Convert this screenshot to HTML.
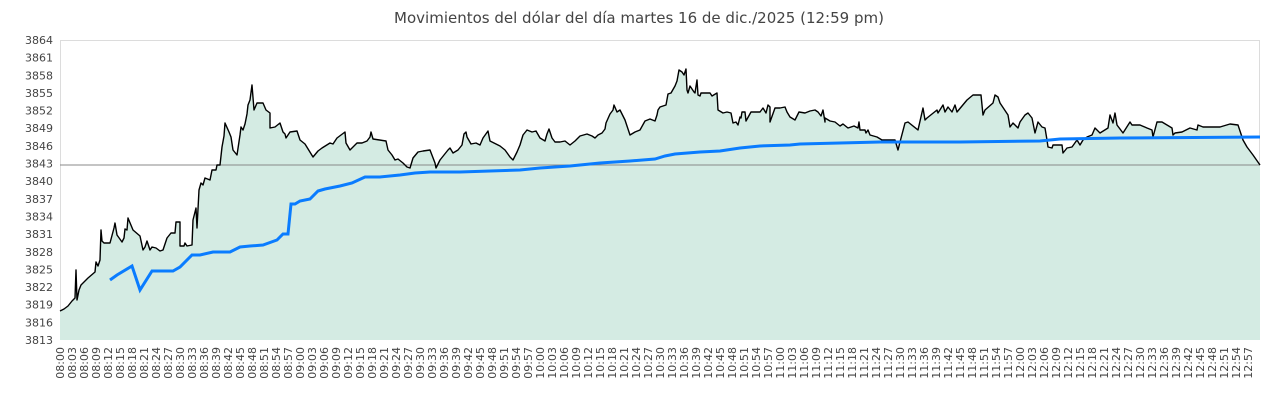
<!DOCTYPE html>
<html><head><meta charset="utf-8"><style>
body{margin:0;background:#fff;}
svg{display:block;font-family:"DejaVu Sans","Liberation Sans",sans-serif;}
</style></head><body>
<svg id="s" width="1280" height="400" xmlns="http://www.w3.org/2000/svg">
<text x="639" y="23" text-anchor="middle" font-size="15" fill="#444">Movimientos del dólar del día martes 16 de dic./2025 (12:59 pm)</text>
<rect x="60.5" y="40.5" width="1199" height="299" fill="#fff" stroke="#dcdcdc"/>
<polygon id="area" fill="#d4ebe3" points=""/>
<line x1="60" y1="165" x2="1260" y2="165" stroke="#888" stroke-width="1"/>
<polyline id="blk" fill="none" stroke="#000" stroke-width="1.4" stroke-linejoin="round" points=""/>
<polyline id="blu" fill="none" stroke="#0a7cff" stroke-width="3" points="110,280 117,275 132,266 140,290 152,271 173,271 180,267 192,255 200,255 213,252 230,252 240,247 250,246 263,245 277,240 283,234 288,234 291,204 295,204 300,201 310,199 318,191 325,189 340,186 352,183 365,177 380,177 400,175 415,173 430,172 460,172 490,171 520,170 540,168 570,166 600,163 630,161 655,159 665,156 675,154 700,152 720,151 740,148 760,146 790,145 800,144 840,143 880,142 900,142 960,142 1040,141 1060,139 1120,138 1260,137"/>
<g id="yl" font-size="11" fill="#444" text-anchor="end"></g>
<g id="xl" font-size="11" fill="#444"></g>
</svg>
<script>
var b=[[60,311],[64,309],[68,306],[72,301],[75,298],[76,270],[77,300],[79,290],[81,285],[88,278],[95,272],[96,262],[98,266],[100,260],[101,230],[102,241],[104,243],[110,243],[114,228],[115,223],[117,235],[122,242],[124,238],[125,229],[127,230],[128,218],[133,230],[140,236],[143,250],[145,247],[147,241],[150,250],[152,247],[156,248],[160,251],[163,250],[167,238],[171,233],[175,233],[176,222],[180,222],[180,246],[184,246],[185,243],[187,246],[192,245],[193,220],[196,208],[197,228],[199,190],[201,183],[203,185],[205,178],[210,180],[212,170],[216,170],[217,165],[220,165],[222,147],[224,136],[225,123],[229,132],[231,137],[233,150],[237,155],[240,135],[241,127],[243,130],[245,124],[247,114],[248,105],[250,100],[252,85],[254,110],[257,103],[263,103],[266,110],[270,113],[270,128],[275,127],[280,123],[283,132],[285,134],[286,138],[290,132],[297,131],[300,140],[305,144],[313,157],[318,151],[322,148],[330,143],[333,144],[337,138],[345,132],[346,143],[350,150],[357,143],[362,143],[367,141],[370,137],[371,132],[373,139],[386,141],[388,150],[392,155],[395,160],[398,159],[403,163],[407,167],[410,168],[413,158],[418,152],[423,151],[430,150],[435,163],[436,168],[440,160],[448,150],[450,148],[453,153],[458,150],[462,145],[464,134],[466,132],[467,137],[471,144],[476,143],[480,145],[483,138],[488,131],[490,141],[500,146],[505,150],[510,157],[513,160],[517,152],[520,145],[523,135],[527,130],[532,132],[536,131],[540,138],[545,141],[547,134],[549,129],[552,138],[555,142],[560,142],[565,141],[570,145],[575,141],[580,136],[587,134],[592,136],[595,138],[598,135],[602,133],[605,129],[606,123],[610,114],[613,110],[614,105],[617,112],[620,110],[625,120],[630,135],[635,132],[640,130],[645,121],[650,119],[655,121],[657,115],[658,110],[660,107],[666,105],[668,94],[671,93],[675,86],[677,81],[679,70],[682,72],[684,75],[686,69],[687,90],[688,93],[690,86],[694,92],[695,93],[697,80],[698,95],[700,96],[701,93],[710,93],[712,96],[717,93],[718,110],[723,113],[727,112],[731,113],[733,123],[736,122],[738,125],[740,117],[741,118],[742,112],[745,112],[746,121],[751,112],[760,112],[763,108],[766,113],[768,105],[770,107],[770,122],[775,108],[780,108],[785,107],[787,112],[790,117],[795,120],[799,112],[805,113],[810,111],[815,110],[818,112],[821,116],[823,110],[825,122],[825,118],[830,121],[835,122],[840,126],[843,124],[848,128],[854,126],[858,128],[859,122],[860,130],[865,130],[866,133],[868,130],[870,135],[877,137],[882,140],[887,140],[895,140],[898,150],[900,142],[905,123],[908,122],[918,130],[923,108],[925,120],[927,118],[937,110],[938,113],[943,105],[945,112],[948,107],[952,112],[955,105],[957,112],[967,100],[973,95],[981,95],[983,115],[985,110],[993,103],[995,95],[998,97],[1000,103],[1008,115],[1010,127],[1013,123],[1018,128],[1020,122],[1025,115],[1028,113],[1032,118],[1035,133],[1038,122],[1042,127],[1045,128],[1047,140],[1048,147],[1052,148],[1053,145],[1062,145],[1063,153],[1067,148],[1072,147],[1077,140],[1080,145],[1083,140],[1087,137],[1092,135],[1095,128],[1100,133],[1108,128],[1110,115],[1113,123],[1115,113],[1117,125],[1123,133],[1130,122],[1132,125],[1140,125],[1147,128],[1152,130],[1153,137],[1157,122],[1162,122],[1167,125],[1172,128],[1173,135],[1175,133],[1182,132],[1190,128],[1197,130],[1198,125],[1203,127],[1220,127],[1230,124],[1238,125],[1243,140],[1247,147],[1253,155],[1260,165]];
var p=b.map(function(q){return q.join(',')}).join(' ');
document.getElementById('blk').setAttribute('points',p);
document.getElementById('area').setAttribute('points','60,340 '+p+' 1260,340');
var NS='http://www.w3.org/2000/svg',yl=document.getElementById('yl'),xl=document.getElementById('xl');
for(var i=0;i<18;i++){var v=3813+3*i,y=340-i*300/17;var t=document.createElementNS(NS,'text');t.setAttribute('x',53);t.setAttribute('y',y+4);t.textContent=v;yl.appendChild(t);}
for(var i=0;i<100;i++){var m=i*3,h=8+Math.floor(m/60),mm=m%60;var s=(h<10?'0':'')+h+':'+(mm<10?'0':'')+mm;var x=60+i*12+4;var t=document.createElementNS(NS,'text');t.setAttribute('transform','translate('+x+',347) rotate(-90)');t.setAttribute('text-anchor','end');t.textContent=s;xl.appendChild(t);}
</script>
</body></html>
